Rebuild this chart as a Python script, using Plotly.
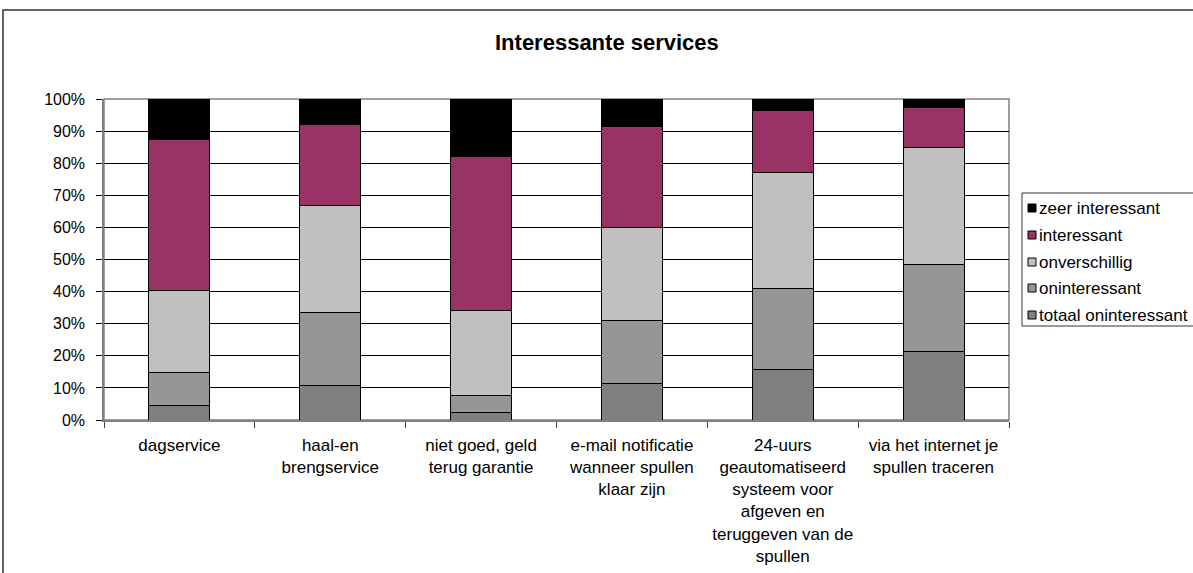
import plotly.graph_objects as go

# Services asked about in the survey (axis labels wrap with <br>)
categories = [
    "dagservice",
    "haal-en<br>brengservice",
    "niet goed, geld<br>terug garantie",
    "e-mail notificatie<br>wanneer spullen<br>klaar zijn",
    "24-uurs<br>geautomatiseerd<br>systeem voor<br>afgeven en<br>teruggeven van de<br>spullen",
    "via het internet je<br>spullen traceren",
]

# Share of respondents per answer (percent), stacked bottom to top
totaal_oninteressant = [4.5, 10.9, 2.2, 11.4, 15.6, 21.2]
oninteressant = [10.4, 22.5, 5.5, 19.5, 25.3, 27.1]
onverschillig = [25.6, 33.5, 26.4, 29.2, 36.1, 36.7]
interessant = [47.0, 25.3, 47.9, 31.4, 19.4, 12.3]
zeer_interessant = [12.5, 7.8, 18.0, 8.5, 3.6, 2.7]

series_names = ["totaal oninteressant", "oninteressant", "onverschillig",
                "interessant", "zeer interessant"]
series_values = [totaal_oninteressant, oninteressant, onverschillig,
                 interessant, zeer_interessant]
series_colors = ["#808080", "#969696", "#C0C0C0", "#993366", "#000000"]

y_ticks = list(range(0, 101, 10))

FONT = "Liberation Sans, Arial, Helvetica, sans-serif"
W, H = 1193, 573
L, R, T, B = 104, 184, 99, 153
PW, PH = W - L - R, H - T - B


def px_x(px):
    return (px - L) / PW


def px_y(py):
    return (H - B - py) / PH


fig = go.Figure()
for name, vals, col in zip(series_names, series_values, series_colors):
    fig.add_trace(go.Bar(
        x=categories, y=vals, name=name,
        marker=dict(color=col, line=dict(color="#000000", width=1)),
        showlegend=False,
    ))

shapes = []
annotations = []

# Plot-area frame
shapes.append(dict(type="rect", xref="paper", yref="paper", x0=0, x1=1, y0=0, y1=1,
                   line=dict(color="#808080", width=1.5), layer="below"))
# Outer chart frame (runs past the right and bottom edges)
shapes.append(dict(type="rect", xref="paper", yref="paper",
                   x0=px_x(3), x1=px_x(1215), y0=px_y(600), y1=px_y(10),
                   line=dict(color="#333333", width=1.5), layer="below"))

# Legend box and entries, top entry is the last stacked series
lg_left, lg_top, lg_bottom = 1022, 193, 326
shapes.append(dict(type="rect", xref="paper", yref="paper",
                   x0=px_x(lg_left), x1=px_x(1215), y0=px_y(lg_bottom), y1=px_y(lg_top),
                   line=dict(color="#333333", width=1), fillcolor="white", layer="above"))
row_y = [208, 235, 262, 288, 315]
for i, (name, col) in enumerate(zip(series_names[::-1], series_colors[::-1])):
    cy = row_y[i]
    shapes.append(dict(type="rect", xref="paper", yref="paper",
                       x0=px_x(1028), x1=px_x(1036), y0=px_y(cy + 4), y1=px_y(cy - 4),
                       fillcolor=col, line=dict(color="#000000", width=1), layer="above"))
    annotations.append(dict(text=name, xref="paper", yref="paper",
                            x=px_x(1037), y=px_y(cy), xanchor="left", yanchor="middle",
                            showarrow=False, font=dict(family=FONT, size=17, color="#000000")))

# Title
annotations.append(dict(text="<b>Interessante services</b>", xref="paper", yref="paper",
                        x=px_x(607), y=px_y(42), xanchor="center", yanchor="middle",
                        showarrow=False, font=dict(family=FONT, size=22, color="#000000")))

fig.update_layout(
    width=W, height=H,
    margin=dict(l=L, r=R, t=T, b=B, pad=0),
    paper_bgcolor="white", plot_bgcolor="white",
    barmode="stack", bargap=0.595,
    font=dict(family=FONT, size=16, color="#000000"),
    showlegend=False,
    shapes=shapes, annotations=annotations,
    xaxis=dict(
        type="category", showline=True, linecolor="#808080", linewidth=1.5,
        ticks="outside", tickson="boundaries", ticklen=6, tickcolor="#404040",
        showgrid=False, tickfont=dict(family=FONT, size=17, color="#000000"),
        tickangle=0, ticklabelstandoff=9, automargin=False,
    ),
    yaxis=dict(
        range=[0, 100], tickvals=y_ticks, ticktext=[f"{v}%" for v in y_ticks],
        showline=True, linecolor="#808080", linewidth=1.5,
        ticks="outside", ticklen=6, tickcolor="#000000",
        showgrid=True, gridcolor="#000000", gridwidth=1, zeroline=False,
        tickfont=dict(family=FONT, size=16, color="#000000"),
        ticklabelstandoff=8, automargin=False,
    ),
)

fig.write_html("out.html")
